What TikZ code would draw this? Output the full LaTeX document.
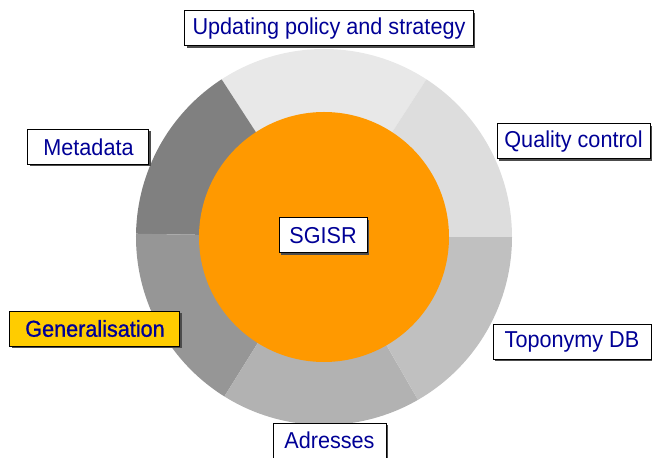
\documentclass[tikz,border=0pt]{standalone}
\usepackage{fontspec}
\setmainfont{Liberation Sans}[FakeStretch=0.94]
\usetikzlibrary{shadows}

\definecolor{sgisrorange}{RGB}{255,153,0}
\definecolor{genyellow}{RGB}{255,204,0}
\definecolor{labelblue}{RGB}{0,0,150}
\definecolor{updgray}{RGB}{232,232,232}
\definecolor{qualgray}{RGB}{221,221,221}
\definecolor{topogray}{RGB}{192,192,192}
\definecolor{addrgray}{RGB}{178,178,178}
\definecolor{gengray}{RGB}{150,150,150}
\definecolor{metagray}{RGB}{128,128,128}

\tikzset{
  tag/.style={draw=black, line width=1pt, fill=white, text=labelblue,
    minimum height=35pt, inner xsep=0pt,
    font=\fontsize{23}{25}\selectfont,
    drop shadow={shadow xshift=1.6pt, shadow yshift=-1.6pt, fill=black!70, opacity=1}},
}

\begin{document}
\begin{tikzpicture}[x=1pt, y=1pt]
        \useasboundingbox (-324, -220) rectangle (328, 237);

        % ring of sectors, then the core on top
        \foreach \a/\b/\c in {57/123/updgray, 123/179/metagray, 179/238/gengray,
                              238/300/addrgray, 300/360/topogray, 0/57/qualgray}
          \fill[\c] (0,0) -- (\a:188pt) arc[start angle=\a, end angle=\b, radius=188pt] -- cycle;
        \fill[sgisrorange] (0,0) circle (125pt);

        \node[tag, minimum width=88pt]  at (-1, 1.5)      (sgisr)  {SGISR};
        \node[tag, minimum width=288pt] at (5, 208.5)     (upd)    {Updating policy and strategy};
        \node[tag, minimum width=153pt] at (249.5, 95.5)  (qual)   {Quality control};
        \node[tag, minimum width=158pt] at (248, -104.5)  (topo)   {Toponymy DB};
        \node[tag, minimum width=113pt] at (5.5, -203.5)  (addr)   {Adresses};
        \node[tag, minimum width=170pt, fill=genyellow] at (-229, -91.5) (gen)
          {\addfontfeature{FakeBold=1}Generalisation};
        \node[tag, minimum width=121pt] at (-235.5, 90)   (meta)   {Metadata};
    \end{tikzpicture}
\end{document}
